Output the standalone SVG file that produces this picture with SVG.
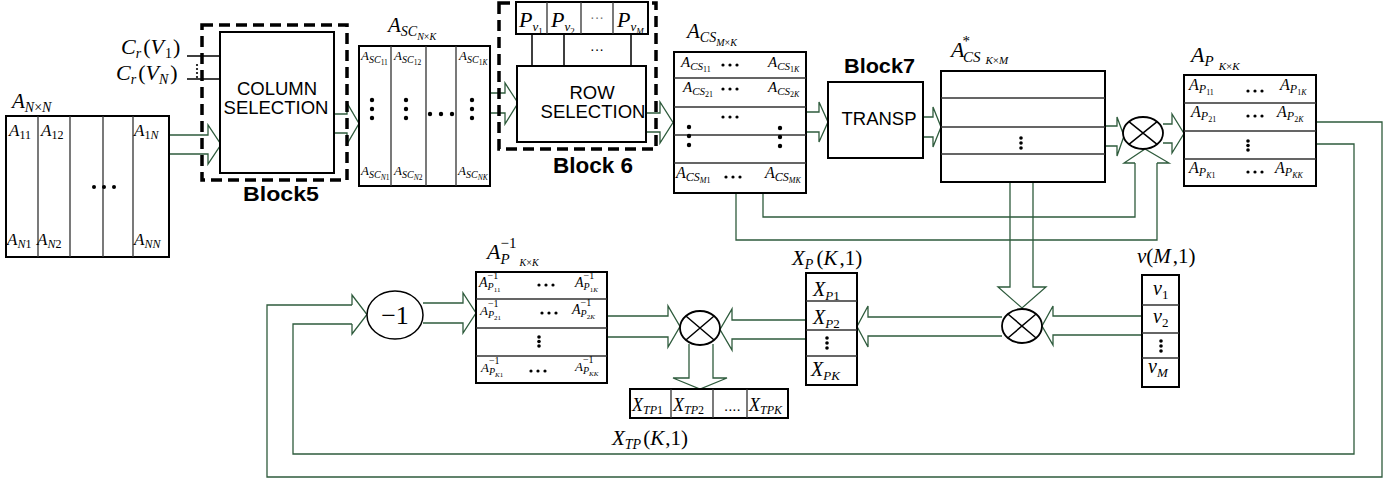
<svg xmlns="http://www.w3.org/2000/svg" width="1395" height="481" viewBox="0 0 1395 481">
<style>
.m{font-family:"Liberation Serif","Times New Roman",serif;font-style:italic;fill:#000}
.n{font-style:normal}
.s{font-family:"Liberation Sans",Arial,sans-serif;fill:#000}
.b{font-family:"Liberation Sans",Arial,sans-serif;font-weight:bold;fill:#000}
.box{fill:#fff;stroke:#000;stroke-width:2}
.div{stroke:#333;stroke-width:1.3;fill:none}
.dash{fill:none;stroke:#000;stroke-width:3.5;stroke-dasharray:11 6}
.dot{fill:#000}
.blk{stroke:#000;stroke-width:1.5;fill:none}
</style>
<rect width="1395" height="481" fill="#fff"/>

<g id="connectors" fill="none" stroke="#2e5b3c" stroke-width="1.3">
  <path d="M169,135 H208 V125 L221,144.5 L208,164 V154 H169"/>
  <path d="M334,114 H347 V103 L359,123.5 L347,144 V133 H334"/>
  <path d="M490,93 H505 V83 L518,103 L505,124 V113 H490"/>
  <path d="M646,113 H660 V102 L673,122.5 L660,143 V132 H646"/>
  <path d="M806,112 H819 V102 L828,122 L819,142 V132 H806"/>
  <path d="M923,117 H933 V107 L941,127 L933,147 V137 H923"/>
  <path d="M1105,126 H1117 V117 L1124,136 L1117,156 V146 H1105"/>
  <path d="M1163,124 H1172 V114 L1184,133.5 L1172,153 V143 H1163"/>
  <path d="M763,193 V217 H1135 V163"/>
  <path d="M736,193 V240 H1157 V163"/>
  <path d="M1135,163 H1124 L1145,149 L1169,163 H1157"/>
  <path d="M1010,182 V287 H998 L1022,308 L1046,287 H1033 V182"/>
  <path d="M1142,316 H1053 V306 L1042,326 L1053,345 V335 H1142"/>
  <path d="M1002,317 H868 V306 L857,326.5 L868,347 V336 H1002"/>
  <path d="M806,320 H732 V309 L720,329.5 L732,350 V339 H806"/>
  <path d="M607,316 H668 V306 L680,326.5 L668,347 V337 H607"/>
  <path d="M689,344 V378 H673 L700,389 L727,378 H713 V344"/>
  <path d="M423,303 H463 V293 L476,313 L463,333 V323 H423"/>
  <path d="M1316,122 H1382 V477 H267 V305 H352"/>
  <path d="M1316,144 H1354 V454 H293 V324 H352"/>
  <path d="M352,305 V295 L367,314.5 L352,334 V324"/>
  <path d="M187,56 H220 M187,79 H222" stroke="#000" stroke-width="1.5"/>
</g>

<g id="A_NN">
  <text class="m" x="12" y="108" font-size="21">A<tspan font-size="14" dy="4">N<tspan class="n">×</tspan>N</tspan></text>
  <rect class="box" x="6" y="116" width="163" height="141"/>
  <path class="div" d="M38,116 V257 M70,116 V257 M103,116 V257 M133,116 V257"/>
  <text class="m" x="9" y="136" font-size="17">A<tspan class="n" font-size="12" dy="3">11</tspan></text>
  <text class="m" x="41" y="136" font-size="17">A<tspan class="n" font-size="12" dy="3">12</tspan></text>
  <text class="m" x="134" y="136" font-size="17">A<tspan font-size="12" dy="3"><tspan class="n">1</tspan>N</tspan></text>
  <text class="m" x="7" y="245" font-size="17">A<tspan font-size="12" dy="3">N<tspan class="n">1</tspan></tspan></text>
  <text class="m" x="37" y="245" font-size="17">A<tspan font-size="12" dy="3">N<tspan class="n">2</tspan></tspan></text>
  <text class="m" x="134" y="245" font-size="17">A<tspan font-size="12" dy="3">NN</tspan></text>
  <circle class="dot" cx="94" cy="187" r="2"/><circle class="dot" cx="104" cy="187" r="2"/><circle class="dot" cx="114" cy="187" r="2"/>
</g>

<g id="block5">
  <text class="m" x="121" y="54" font-size="22">C<tspan font-size="14" dy="4">r</tspan><tspan class="n" dx="2" dy="-4">(</tspan>V<tspan class="n" font-size="14" dx="1" dy="4">1</tspan><tspan class="n" dx="1" dy="-4">)</tspan></text>
  <text class="m" x="116" y="80" font-size="22">C<tspan font-size="14" dy="4">r</tspan><tspan class="n" dx="2" dy="-4">(</tspan>V<tspan font-size="14" dy="4">N</tspan><tspan class="n" dx="2" dy="-4">)</tspan></text>
  <circle class="dot" cx="197" cy="65" r="1.1"/><circle class="dot" cx="197" cy="69" r="1.1"/><circle class="dot" cx="197" cy="73" r="1.1"/><circle class="dot" cx="197" cy="77" r="1.1"/>
  <rect class="dash" x="202" y="25" width="145" height="155"/>
  <rect class="box" x="220" y="32" width="114" height="141"/>
  <text class="s" x="277" y="95" font-size="18.5" text-anchor="middle">COLUMN</text>
  <text class="s" x="276" y="114" font-size="18.5" text-anchor="middle">SELECTION</text>
  <text class="b" x="243" y="201" font-size="21" textLength="76" lengthAdjust="spacingAndGlyphs">Block5</text>
</g>

<g id="A_SC">
  <text class="m" x="388" y="32" font-size="21">A<tspan font-size="14" dy="4">SC<tspan font-size="10" dy="4">N<tspan class="n">×</tspan>K</tspan></tspan></text>
  <rect class="box" x="359" y="46" width="131" height="140"/>
  <path class="div" d="M391,46 V186 M426,46 V186 M456,46 V186"/>
  <text class="m" x="361" y="60" font-size="13">A<tspan font-size="10" dy="3">SC<tspan class="n" font-size="7.5" dy="2">11</tspan></tspan></text>
  <text class="m" x="394" y="60" font-size="13">A<tspan font-size="10" dy="3">SC<tspan class="n" font-size="7.5" dy="2">12</tspan></tspan></text>
  <text class="m" x="459" y="60" font-size="13">A<tspan font-size="10" dy="3">SC<tspan font-size="7.5" dy="2"><tspan class="n">1</tspan>K</tspan></tspan></text>
  <text class="m" x="361" y="175" font-size="13">A<tspan font-size="10" dy="3">SC<tspan font-size="7.5" dy="2">N<tspan class="n">1</tspan></tspan></tspan></text>
  <text class="m" x="394" y="175" font-size="13">A<tspan font-size="10" dy="3">SC<tspan font-size="7.5" dy="2">N<tspan class="n">2</tspan></tspan></tspan></text>
  <text class="m" x="458" y="175" font-size="13">A<tspan font-size="10" dy="3">SC<tspan font-size="7.5" dy="2">NK</tspan></tspan></text>
  <g class="dot">
    <circle cx="372" cy="100" r="2.2"/><circle cx="372" cy="109" r="2.2"/><circle cx="372" cy="118" r="2.2"/>
    <circle cx="406" cy="100" r="2.2"/><circle cx="406" cy="109" r="2.2"/><circle cx="406" cy="118" r="2.2"/>
    <circle cx="472" cy="100" r="2.2"/><circle cx="472" cy="109" r="2.2"/><circle cx="472" cy="118" r="2.2"/>
    <circle cx="430" cy="114" r="2.2"/><circle cx="441" cy="114" r="2.2"/><circle cx="452" cy="114" r="2.2"/>
  </g>
</g>

<g id="block6">
  <rect class="dash" x="499" y="3" width="157" height="146"/>
  <rect class="box" x="516" y="2" width="132" height="32"/>
  <path class="div" d="M547,2 V34 M581,2 V34 M613,2 V34"/>
  <text class="m" x="519" y="27" font-size="22">P<tspan font-size="13" dy="4">v<tspan class="n" font-size="9" dy="3">1</tspan></tspan></text>
  <text class="m" x="551" y="27" font-size="22">P<tspan font-size="13" dy="4">v<tspan class="n" font-size="9" dy="3">2</tspan></tspan></text>
  <text class="s" x="597" y="22" font-size="14" text-anchor="middle" style="fill:#777">···</text>
  <text class="m" x="617" y="27" font-size="22">P<tspan font-size="13" dy="4">v<tspan font-size="9" dy="3">M</tspan></tspan></text>
  <path class="blk" d="M532,34 V66 M564,34 V66 M631,34 V66"/>
  <text class="s" x="597" y="54" font-size="14" text-anchor="middle">···</text>
  <rect class="box" x="517" y="66" width="129" height="76"/>
  <text class="s" x="592" y="99" font-size="18.5" text-anchor="middle">ROW</text>
  <text class="s" x="593" y="118" font-size="18.5" text-anchor="middle">SELECTION</text>
  <text class="b" x="553" y="173" font-size="22" textLength="80" lengthAdjust="spacingAndGlyphs">Block 6</text>
</g>

<g id="A_CS">
  <text class="m" x="687" y="38" font-size="21">A<tspan font-size="14" dy="4">CS<tspan font-size="10" dy="4">M<tspan class="n">×</tspan>K</tspan></tspan></text>
  <rect class="box" x="674" y="52" width="132" height="141"/>
  <path class="div" d="M674,78 H806 M674,107 H806 M674,135 H806 M674,163 H806"/>
  <text class="m" x="681" y="67" font-size="15">A<tspan font-size="11" dy="3">CS<tspan class="n" font-size="8" dy="2">11</tspan></tspan></text>
  <text class="m" x="768" y="67" font-size="15">A<tspan font-size="11" dy="3">CS<tspan font-size="8" dy="2"><tspan class="n">1</tspan>K</tspan></tspan></text>
  <text class="m" x="683" y="92" font-size="15">A<tspan font-size="11" dy="3">CS<tspan class="n" font-size="8" dy="2">21</tspan></tspan></text>
  <text class="m" x="768" y="92" font-size="15">A<tspan font-size="11" dy="3">CS<tspan font-size="8" dy="2"><tspan class="n">2</tspan>K</tspan></tspan></text>
  <text class="m" x="676" y="178" font-size="16">A<tspan font-size="12" dy="3">CS<tspan font-size="8" dy="2">M<tspan class="n">1</tspan></tspan></tspan></text>
  <text class="m" x="765" y="178" font-size="16">A<tspan font-size="12" dy="3">CS<tspan font-size="8" dy="2">MK</tspan></tspan></text>
  <g class="dot">
    <circle cx="723" cy="65" r="1.6"/><circle cx="730" cy="65" r="1.6"/><circle cx="737" cy="65" r="1.6"/>
    <circle cx="723" cy="89" r="1.6"/><circle cx="730" cy="89" r="1.6"/><circle cx="737" cy="89" r="1.6"/>
    <circle cx="723" cy="117" r="1.6"/><circle cx="730" cy="117" r="1.6"/><circle cx="737" cy="117" r="1.6"/>
    <circle cx="726" cy="177" r="1.6"/><circle cx="733" cy="177" r="1.6"/><circle cx="740" cy="177" r="1.6"/>
    <circle cx="689" cy="127" r="2.2"/><circle cx="689" cy="136" r="2.2"/><circle cx="689" cy="145" r="2.2"/>
    <circle cx="780" cy="128" r="2.2"/><circle cx="780" cy="137" r="2.2"/><circle cx="780" cy="146" r="2.2"/>
  </g>
</g>

<g id="block7">
  <text class="b" x="844" y="73" font-size="21" textLength="71" lengthAdjust="spacingAndGlyphs">Block7</text>
  <rect class="box" x="828" y="82" width="95" height="76"/>
  <text class="s" x="879" y="125" font-size="18.5" text-anchor="middle">TRANSP</text>
</g>

<g id="A_CS_star">
  <text class="m" x="951" y="57" font-size="22">A<tspan class="n" font-size="15" dx="-2" dy="-11">*</tspan><tspan font-size="15" dx="-7" dy="16">CS</tspan><tspan font-size="11" dx="5" dy="2">K<tspan class="n">×</tspan>M</tspan></text>
  <rect class="box" x="941" y="71" width="164" height="111"/>
  <path class="div" d="M941,98 H1105 M941,127 H1105 M941,154 H1105"/>
  <g class="dot"><circle cx="1021" cy="138" r="1.8"/><circle cx="1021" cy="143" r="1.8"/><circle cx="1021" cy="148" r="1.8"/></g>
</g>

<g id="mult1">
  <ellipse cx="1143" cy="133" rx="20" ry="16" fill="#fff" stroke="#000" stroke-width="1.8"/>
  <path class="blk" stroke-width="1.8" d="M1128.9,121.7 L1157.1,144.3 M1157.1,121.7 L1128.9,144.3"/>
</g>

<g id="A_P">
  <text class="m" x="1191" y="62" font-size="22">A<tspan font-size="15" dy="4">P</tspan><tspan font-size="11" dx="5" dy="4">K<tspan class="n">×</tspan>K</tspan></text>
  <rect class="box" x="1184" y="75" width="132" height="111"/>
  <path class="div" d="M1184,103 H1316 M1184,131 H1316 M1184,159 H1316"/>
  <text class="m" x="1189" y="90" font-size="16">A<tspan font-size="12" dy="3">P<tspan class="n" font-size="8" dy="2">11</tspan></tspan></text>
  <text class="m" x="1280" y="90" font-size="16">A<tspan font-size="12" dy="3">P<tspan font-size="8" dy="2"><tspan class="n">1</tspan>K</tspan></tspan></text>
  <text class="m" x="1191" y="117" font-size="16">A<tspan font-size="12" dy="3">P<tspan class="n" font-size="8" dy="2">21</tspan></tspan></text>
  <text class="m" x="1277" y="117" font-size="16">A<tspan font-size="12" dy="3">P<tspan font-size="8" dy="2"><tspan class="n">2</tspan>K</tspan></tspan></text>
  <text class="m" x="1189" y="173" font-size="16">A<tspan font-size="12" dy="3">P<tspan font-size="8" dy="2">K<tspan class="n">1</tspan></tspan></tspan></text>
  <text class="m" x="1275" y="173" font-size="16">A<tspan font-size="12" dy="3">P<tspan font-size="8" dy="2">KK</tspan></tspan></text>
  <g class="dot">
    <circle cx="1248" cy="91" r="1.6"/><circle cx="1255" cy="91" r="1.6"/><circle cx="1262" cy="91" r="1.6"/>
    <circle cx="1248" cy="116" r="1.6"/><circle cx="1255" cy="116" r="1.6"/><circle cx="1262" cy="116" r="1.6"/>
    <circle cx="1248" cy="172" r="1.6"/><circle cx="1255" cy="172" r="1.6"/><circle cx="1262" cy="172" r="1.6"/>
    <circle cx="1248" cy="141" r="1.8"/><circle cx="1248" cy="145.5" r="1.8"/><circle cx="1248" cy="150" r="1.8"/>
  </g>
</g>

<g id="inv">
  <ellipse cx="395" cy="315" rx="28" ry="24" fill="#fff" stroke="#000" stroke-width="1.5"/>
  <text class="m n" x="395" y="324" font-size="26" text-anchor="middle">−1</text>
</g>

<g id="A_P_inv">
  <text class="m" x="487" y="259" font-size="22">A<tspan class="n" font-size="15" dy="-11">−1</tspan><tspan font-size="15" dx="-16" dy="16">P</tspan><tspan font-size="10" dx="10" dy="2">K<tspan class="n">×</tspan>K</tspan></text>
  <rect class="box" x="476" y="272" width="131" height="111"/>
  <path class="div" d="M476,299 H607 M476,328 H607 M476,356 H607"/>
  <text class="m" x="479" y="287" font-size="14">A<tspan class="n" font-size="10" dy="-8">−1</tspan><tspan font-size="10" dx="-10.6" dy="11">P<tspan class="n" font-size="7" dy="2">11</tspan></tspan></text>
  <text class="m" x="575" y="287" font-size="14">A<tspan class="n" font-size="10" dy="-8">−1</tspan><tspan font-size="10" dx="-10.6" dy="11">P<tspan font-size="7" dy="2"><tspan class="n">1</tspan>K</tspan></tspan></text>
  <text class="m" x="480" y="315" font-size="13">A<tspan class="n" font-size="10" dy="-8">−1</tspan><tspan font-size="10" dx="-10.6" dy="11">P<tspan class="n" font-size="7" dy="2">21</tspan></tspan></text>
  <text class="m" x="572" y="314" font-size="14">A<tspan class="n" font-size="10" dy="-8">−1</tspan><tspan font-size="10" dx="-10.6" dy="11">P<tspan font-size="7" dy="2"><tspan class="n">2</tspan>K</tspan></tspan></text>
  <text class="m" x="481" y="372" font-size="13">A<tspan class="n" font-size="10" dy="-8">−1</tspan><tspan font-size="10" dx="-10.6" dy="11">P<tspan font-size="7" dy="2">K<tspan class="n">1</tspan></tspan></tspan></text>
  <text class="m" x="575" y="371" font-size="13">A<tspan class="n" font-size="10" dy="-8">−1</tspan><tspan font-size="10" dx="-10.6" dy="11">P<tspan font-size="7" dy="2">KK</tspan></tspan></text>
  <g class="dot">
    <circle cx="539" cy="285" r="1.6"/><circle cx="546" cy="285" r="1.6"/><circle cx="553" cy="285" r="1.6"/>
    <circle cx="542" cy="313" r="1.6"/><circle cx="549" cy="313" r="1.6"/><circle cx="556" cy="313" r="1.6"/>
    <circle cx="531" cy="371" r="1.6"/><circle cx="538" cy="371" r="1.6"/><circle cx="545" cy="371" r="1.6"/>
    <circle cx="539" cy="337" r="1.8"/><circle cx="539" cy="341.5" r="1.8"/><circle cx="539" cy="346" r="1.8"/>
  </g>
</g>

<g id="mult3">
  <ellipse cx="700" cy="328" rx="20" ry="17" fill="#fff" stroke="#000" stroke-width="1.8"/>
  <path class="blk" stroke-width="1.8" d="M685.9,316 L714.1,340 M714.1,316 L685.9,340"/>
</g>

<g id="X_TP">
  <rect class="box" x="630" y="389" width="158" height="29"/>
  <path class="div" d="M671,389 V418 M713,389 V418 M747,389 V418"/>
  <text class="m" x="632" y="411" font-size="18">X<tspan font-size="12" dy="3">TP<tspan class="n">1</tspan></tspan></text>
  <text class="m" x="673" y="411" font-size="18">X<tspan font-size="12" dy="3">TP<tspan class="n">2</tspan></tspan></text>
  <text class="s" x="724" y="411" font-size="15">....</text>
  <text class="m" x="749" y="411" font-size="18">X<tspan font-size="12" dy="3">TPK</tspan></text>
  <text class="m" x="612" y="445" font-size="21">X<tspan font-size="14" dy="4">TP</tspan><tspan class="n" dx="2" dy="-4">(</tspan>K<tspan class="n" dx="1">,1)</tspan></text>
</g>

<g id="X_P">
  <text class="m" x="792" y="265" font-size="21">X<tspan font-size="14" dy="4">P</tspan><tspan class="n" dx="3" dy="-4">(</tspan>K<tspan class="n" dx="2">,1)</tspan></text>
  <rect class="box" x="806" y="273" width="51" height="112"/>
  <path class="div" d="M806,301 H857 M806,330 H857 M806,356 H857"/>
  <text class="m" x="813" y="296" font-size="20">X<tspan font-size="13" dy="4">P<tspan class="n">1</tspan></tspan></text>
  <text class="m" x="813" y="324" font-size="20">X<tspan font-size="13" dy="4">P<tspan class="n">2</tspan></tspan></text>
  <text class="m" x="811" y="376" font-size="20">X<tspan font-size="13" dy="4">PK</tspan></text>
  <g class="dot"><circle cx="827" cy="338" r="1.8"/><circle cx="827" cy="343" r="1.8"/><circle cx="827" cy="348" r="1.8"/></g>
</g>

<g id="mult2">
  <ellipse cx="1022" cy="326" rx="20" ry="17" fill="#fff" stroke="#000" stroke-width="1.8"/>
  <path class="blk" stroke-width="1.8" d="M1007.9,314 L1036.1,338 M1036.1,314 L1007.9,338"/>
</g>

<g id="v">
  <text class="m" x="1137" y="263" font-size="21">v<tspan class="n">(</tspan>M<tspan class="n" dx="2">,1)</tspan></text>
  <rect class="box" x="1142" y="275" width="37" height="112"/>
  <path class="div" d="M1142,305 H1179 M1142,333 H1179 M1142,358 H1179"/>
  <text class="m" x="1153" y="295" font-size="20">v<tspan class="n" font-size="13" dy="4">1</tspan></text>
  <text class="m" x="1153" y="323" font-size="20">v<tspan class="n" font-size="13" dy="4">2</tspan></text>
  <text class="m" x="1148" y="373" font-size="20">v<tspan font-size="13" dy="4">M</tspan></text>
  <g class="dot"><circle cx="1161" cy="341" r="1.8"/><circle cx="1161" cy="346" r="1.8"/><circle cx="1161" cy="351" r="1.8"/></g>
</g>
</svg>
